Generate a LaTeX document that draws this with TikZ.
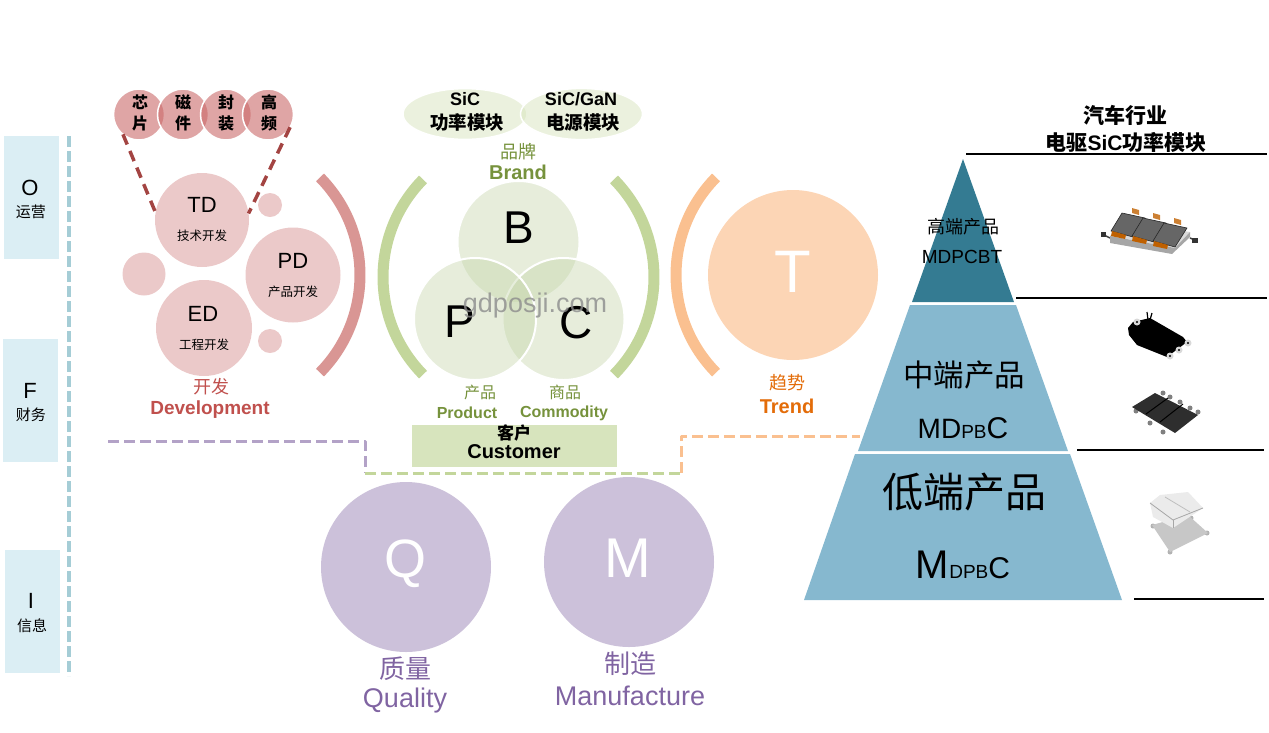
\documentclass[tikz,border=0pt]{standalone}
\usepackage{fontspec}
\setmainfont{Liberation Sans}
\newfontfamily\zh{Noto Sans CJK SC}
\newcommand{\sizeto}[1]{\fontsize{#1}{#1}\selectfont}
\definecolor{sidebox}{HTML}{DBEEF4}
\definecolor{sideline}{HTML}{A5CDD6}
\definecolor{devred}{HTML}{C0504D}
\definecolor{devbase}{HTML}{CA6969}
\definecolor{devlight}{HTML}{EBC9C9}
\definecolor{devarc}{HTML}{D99694}
\definecolor{brandbase}{HTML}{C2D3A6}
\definecolor{brandarc}{HTML}{C3D69B}
\definecolor{brandtxt}{HTML}{76923C}
\definecolor{custbox}{HTML}{D7E4BD}
\definecolor{trendarc}{HTML}{FAC090}
\definecolor{trendfill}{HTML}{FCD5B5}
\definecolor{trendtxt}{HTML}{E36C09}
\definecolor{qmfill}{HTML}{CCC1DA}
\definecolor{qmline}{HTML}{B3A2C7}
\definecolor{qmtxt}{HTML}{8064A2}
\definecolor{pyrtop}{HTML}{347B92}
\definecolor{pyrlow}{HTML}{86B8CF}
\tikzset{
	txt/.style={inner sep=0, outer sep=0, align=center, font=\sizeto{#1}},
	zhtxt/.style={inner sep=0, outer sep=0, align=center, font=\zh\sizeto{#1}},
	zhbold/.style={inner sep=0, outer sep=0, align=center, font=\zh\bfseries\sizeto{#1}},
	engbold/.style={inner sep=0, outer sep=0, align=center, font=\bfseries\sizeto{#1}},
	bubble/.style={circle, inner sep=0, outer sep=0, minimum size=#1 pt},
	devball/.style={bubble=#1, fill=devlight},
	chip/.style={bubble=51, fill=devbase, fill opacity=.6, draw=white, line width=1.5},
	venn/.style={bubble=122, fill=brandbase, fill opacity=.4, draw=white, line width=2},
	sidebar/.style={rectangle, inner sep=0, outer sep=0, fill=sidebox, minimum width=55pt, minimum height=123pt},
	bracket/.style={line width=11},
	rule/.style={line width=2, black},
	longdash/.style={line width=3, dash pattern=on 11pt off 5pt}
}

\begin{document}
\begin{tikzpicture}[x=1pt, y=-1pt, line join=round]
	\useasboundingbox (0,0) rectangle (1269,732);

	% side boxes
	\node[sidebar] (boxo) at (31.5,197.5) {};
	\node[sidebar] (boxf) at (30.5,400.5) {};
	\node[sidebar] (boxi) at (32.5,611.5) {};
	\node[txt=22] (lo) at (30,188) {O};
	\node[zhtxt=15] (lozh) at (31,212) {运营};
	\node[txt=22] (lf) at (30,391) {F};
	\node[zhtxt=15] (lfzh) at (31,415) {财务};
	\node[txt=22] (li) at (31,601) {I};
	\node[zhtxt=15] (lizh) at (32,626) {信息};
	\coordinate (sidetop) at (69,136);
	\coordinate (sidebot) at (69,676);
	\draw[sideline, line width=4, dash pattern=on 11pt off 4pt] (sidetop) -- (sidebot);

	% development
	\node[chip] (chipa) at (139,114.5) {};
	\node[chip] (chipb) at (183,114.5) {};
	\node[chip] (chipc) at (226,114.5) {};
	\node[chip] (chipd) at (268,114.5) {};
	\node[zhbold=16] at (140,113) {芯\\[5pt]片};
	\node[zhbold=16] at (183,113) {磁\\[5pt]件};
	\node[zhbold=16] at (226,113) {封\\[5pt]装};
	\node[zhbold=16] at (269,113) {高\\[5pt]频};
	\node[devball=94] (td) at (202,220) {};
	\node[devball=95] (pd) at (293,275) {};
	\node[devball=96] (ed) at (204,328) {};
	\node[devball=24] (dota) at (270,205) {};
	\node[devball=43] (dotb) at (144,274) {};
	\node[devball=24] (dotc) at (270,341) {};
	\draw[devred!85!black, line width=3.5, dash pattern=on 11pt off 7pt] (chipa.231) -- (td.171);
	\draw[devred!85!black, line width=3.5, dash pattern=on 11pt off 7pt] (chipd.-30) -- (td.8);
	\node[txt=22] (tdl) at (202,205) {TD};
	\node[zhtxt=12.5] (tdz) at (202,236) {技术开发};
	\node[txt=22] (pdl) at (293,261) {PD};
	\node[zhtxt=12.5] (pdz) at (293,292) {产品开发};
	\node[txt=22] (edl) at (203,314) {ED};
	\node[zhtxt=12.5] (edz) at (204,345) {工程开发};
	\node[zhtxt=18, text=devred] (devz) at (211,387) {开发};
	\node[engbold=19, text=devred] (dev) at (210,410) {Development};
	\draw[bracket, devarc] (221,275) ++(-44.6:139pt) arc (-44.6:44.6:139pt);

	% brand
	\draw[bracket, brandarc] (522,277) ++(135.4:139pt) arc (135.4:224.6:139pt);
	\draw[bracket, brandarc] (515,277) ++(-44.6:139pt) arc (-44.6:44.6:139pt);
	\node[circle, inner sep=0, minimum width=124pt, fill=custbox, fill opacity=.5, draw=white, line width=1.5, yscale=.41] (ella) at (465,114) {};
	\node[circle, inner sep=0, minimum width=122pt, fill=custbox, fill opacity=.5, draw=white, line width=1.5, yscale=.42] (ellb) at (581.5,114) {};
	\node[engbold=18] (sica) at (465,99) {SiC};
	\node[zhbold=18.5] (sicaz) at (467,122) {功率模块};
	\node[engbold=18] (sicb) at (581,99) {SiC/GaN};
	\node[zhbold=18.5] (sicbz) at (583,122) {电源模块};
	\node[zhtxt=18, text=brandtxt] (brandz) at (518,152) {品牌};
	\node[engbold=20, text=brandtxt] (brand) at (518,172) {Brand};
	\node[venn] (vb) at (518.5,242) {};
	\node[venn] (vc) at (563.5,319) {};
	\node[venn] (vp) at (475,319) {};
	\node[txt=46] (lb) at (519,228) {B};
	\node[txt=46] (lp) at (460,322) {P};
	\node[txt=46] (lc) at (576,323) {C};
	\node[txt=27, text=black!45, text opacity=.8] (mark) at (535,306) {gdposji.com};
	\node[zhtxt=16, text=brandtxt] (prodz) at (480,392) {产品};
	\node[engbold=16, text=brandtxt] (prod) at (467,413) {Product};
	\node[zhtxt=16, text=brandtxt] (commz) at (565,392) {商品};
	\node[engbold=16, text=brandtxt] (comm) at (564,413) {Commodity};
	\node[rectangle, inner sep=0, fill=custbox, minimum width=205pt, minimum height=42pt] (cust) at (514.5,446) {};
	\node[zhbold=17] (custz) at (514,433) {客户};
	\node[engbold=20] (custl) at (514,452) {Customer};

	% trend
	\draw[bracket, trendarc] (815,275) ++(135.4:139pt) arc (135.4:224.6:139pt);
	\node[bubble=170, fill=trendfill] (tball) at (793,275) {};
	\node[txt=60, text=white] (tl) at (793,272) {T};
	\node[zhtxt=18, text=trendtxt] (trendz) at (787,383) {趋势};
	\node[engbold=20, text=trendtxt] (trend) at (787,406) {Trend};

	% quality and manufacture
	\node[bubble=170, fill=qmfill] (qball) at (406,567) {};
	\node[bubble=170, fill=qmfill] (mball) at (629,562) {};
	\node[txt=54, text=white] (ql) at (405,564) {Q};
	\node[txt=56, text=white] (ml) at (628,558) {M};
	\node[zhtxt=26, text=qmtxt] (qz) at (405,669) {质量};
	\node[txt=27, text=qmtxt] (q) at (405,701) {Quality};
	\node[zhtxt=26, text=qmtxt] (mz) at (630,664) {制造};
	\node[txt=27, text=qmtxt] (m) at (630,696) {Manufacture};

	% dashes under the brand
	\coordinate (devfoot) at (108,441);
	\coordinate (lineq) at (365,473);
	\coordinate (linet) at (681,473);
	\coordinate (pyrfoot) at (860,436);
	\draw[longdash, qmline] (devfoot) -| (lineq);
	\draw[longdash, brandarc] (lineq) -- (linet);
	\draw[longdash, trendarc] (linet) |- (pyrfoot);

	% pyramid
	\fill[pyrtop] (963,159) -- (1014,302) -- (912,302) -- cycle;
	\fill[pyrlow] (910,305) -- (1016,305) -- (1068,451) -- (858,451) -- cycle;
	\fill[pyrlow] (855,454) -- (1070,454) -- (1122,600) -- (804,600) -- cycle;
	\node[zhtxt=18] (hiz) at (963,227) {高端产品};
	\node[txt=19] (hi) at (962,257) {MDPCBT};
	\node[zhtxt=30.5] (midz) at (964,375) {中端产品};
	\node[txt=28] (mid) at (963,428) {MD\sizeto{19}PB\sizeto{30}C};
	\node[zhtxt=41] (lowz) at (964,492) {低端产品};
	\node[txt=40] (low) at (963,565) {M\sizeto{19}DPB\sizeto{30}C};

	% table on the right
	\node[zhbold=21] (headz) at (1125,115) {汽车行业};
	\node[zhbold=21] (head) at (1126,142) {电驱\bfseries\rmfamily SiC\zh 功率模块};
	\coordinate (ruleal) at (966,154);
	\coordinate (rulear) at (1267,154);
	\coordinate (rulebl) at (1016,298);
	\coordinate (rulebr) at (1267,298);
	\coordinate (rulecl) at (1077,450);
	\coordinate (rulecr) at (1264,450);
	\coordinate (ruledl) at (1134,599);
	\coordinate (ruledr) at (1264,599);
	\draw[rule] (ruleal) -- (rulear);
	\draw[rule] (rulebl) -- (rulebr);
	\draw[rule] (rulecl) -- (rulecr);
	\draw[rule] (ruledl) -- (ruledr);

	% module, high end
	\draw[black!75, line width=1.5] (1104,235) -- (1110,238);
	\draw[black!75, line width=1.5] (1190,238) -- (1195,240);
	\fill[black!80] (1101,232) rectangle (1106,237);
	\fill[black!80] (1192,238) rectangle (1198,243);
	\fill[black!15] (1110,236) -- (1122,222) -- (1190,232) -- (1175,248) -- cycle;
	\fill[black!35] (1110,236) -- (1175,248) -- (1190,232) -- (1190,237) -- (1172,254) -- (1110,243) -- cycle;
	\foreach \i in {0,1,2} {
		\fill[brown!80!orange] ({1132+21*\i},{208+5*\i}) -- ({1139+21*\i},{210+5*\i}) -- ({1139+21*\i},{215+5*\i}) -- ({1132+21*\i},{213+5*\i}) -- cycle;
		\fill[black!60, draw=black!85, line width=.6] ({1122+21*\i},{213+5*\i}) -- ({1145+21*\i},{218+5*\i}) -- ({1133+21*\i},{237+5*\i}) -- ({1111+21*\i},{231+5*\i}) -- cycle;
		\fill[orange!75!black] ({1112+21*\i},{231+5*\i}) -- ({1126+21*\i},{235+5*\i}) -- ({1125+21*\i},{239+5*\i}) -- ({1111+21*\i},{236+5*\i}) -- cycle;
	}

	% module, middle, black
	\draw[black, line width=1.2] (1147,312) -- (1148,320);
	\draw[black, line width=1.2] (1152,313) -- (1150,320);
	\fill[black] (1128,328) -- (1133,322) -- (1150,318) -- (1183,337) -- (1187,342) -- (1167,357) -- (1137,345) -- (1129,335) -- cycle;
	\foreach \px/\py in {1170/356, 1179/350, 1188/343, 1137/322} {
		\fill[black!15] (\px,\py) circle (3.5);
		\fill[black] (\px,\py) circle (1.2);
	}

	% module, middle, dark grey
	\foreach \px/\py in {1163/393, 1170/397, 1180/402, 1190/408, 1198/412, 1136/411, 1150/423, 1163/432} {
		\fill[black!50] (\px,\py) circle (2.5);
	}
	\fill[black!82] (1132,407) -- (1155,393) -- (1198,415) -- (1175,433) -- cycle;
	\draw[black, line width=1] (1146,414) -- (1168,398);
	\draw[black, line width=1] (1160,422) -- (1183,404);

	% module, low end
	\foreach \px/\py in {1153/526, 1170/552, 1207/533, 1191/518} {
		\fill[black!30] (\px,\py) circle (2.5);
	}
	\fill[black!22] (1152,525) -- (1188,515) -- (1208,533) -- (1170,552) -- cycle;
	\fill[black!8] (1150,503) -- (1160,495) -- (1188,492) -- (1203,508) -- (1173,528) -- (1153,517) -- cycle;
	\draw[black!35, line width=.8] (1150,503) -- (1173,520) -- (1203,508);
	\draw[black!35, line width=.8] (1173,520) -- (1173,528);
	\draw[black!25, line width=.8] (1165,497) -- (1190,512);
\end{tikzpicture}
\end{document}
